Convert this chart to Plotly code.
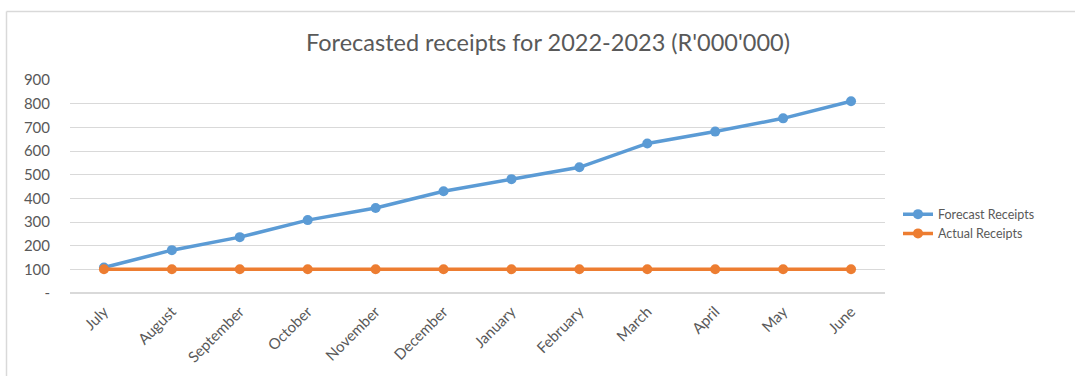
import plotly.graph_objects as go

months = ["July", "August", "September", "October", "November", "December",
          "January", "February", "March", "April", "May", "June"]
forecast_receipts = [108, 181, 236, 308, 359, 430, 481, 531, 632, 682, 738, 810]
actual_receipts = [100, 100, 100, 100, 100, 100, 100, 100, 100, 100, 100, 100]
y_tick_values = [0, 100, 200, 300, 400, 500, 600, 700, 800, 900]
y_tick_labels = ["-", "100", "200", "300", "400", "500", "600", "700", "800", "900"]

BLUE = "#5B9BD5"
ORANGE = "#ED7D31"
TEXT = "#595959"
GRID = "#D9D9D9"
FONT = "Lato, Open Sans, sans-serif"

W, H = 1075, 376
L, R, T, B = 70, 190, 80, 83
plot_w = W - L - R
plot_h = H - T - B

fig = go.Figure()
fig.add_trace(go.Scatter(
    x=months, y=forecast_receipts, name="Forecast Receipts",
    mode="lines+markers",
    line=dict(color=BLUE, width=3.5),
    marker=dict(color=BLUE, size=10),
))
fig.add_trace(go.Scatter(
    x=months, y=actual_receipts, name="Actual Receipts",
    mode="lines+markers",
    line=dict(color=ORANGE, width=3.5),
    marker=dict(color=ORANGE, size=10),
))

# Outer chart frame (top and left edges visible)
fx = (6.5 - L) / plot_w
fy = (H - B - 11.5) / plot_h
fig.add_shape(type="line", xref="paper", yref="paper",
              x0=fx, x1=(W - L + 5) / plot_w, y0=fy, y1=fy,
              line=dict(color="#D9D9D9", width=1.5))
fig.add_shape(type="line", xref="paper", yref="paper",
              x0=fx, x1=fx, y0=fy, y1=-(B + 5) / plot_h,
              line=dict(color="#D9D9D9", width=1.5))

fig.add_annotation(
    text="Forecasted receipts for 2022-2023 (R'000'000)",
    xref="paper", yref="paper",
    x=(548 - L) / plot_w, y=(H - B - 42) / plot_h,
    xanchor="center", yanchor="middle", showarrow=False,
    font=dict(family=FONT, size=23.5, color=TEXT),
)

fig.update_layout(
    width=W, height=H,
    margin=dict(l=L, r=R, t=T, b=B, autoexpand=False),
    paper_bgcolor="white", plot_bgcolor="white",
    font=dict(family=FONT, size=13, color=TEXT),
    showlegend=True,
    legend=dict(
        x=(898 - L) / plot_w, y=(H - B - 224) / plot_h,
        xanchor="left", yanchor="middle",
        font=dict(family=FONT, size=12.5, color=TEXT),
        bgcolor="rgba(0,0,0,0)",
        tracegroupgap=0, itemwidth=30,
    ),
    xaxis=dict(
        type="category", range=[-0.5, 11.5], automargin=False,
        tickangle=-45, showgrid=False, zeroline=False,
        showline=False, ticks="", ticklabelstandoff=6,
        tickfont=dict(family=FONT, size=15, color=TEXT),
    ),
    yaxis=dict(
        range=[0, 900], tickvals=y_tick_values, ticktext=y_tick_labels,
        automargin=False,
        showgrid=True, gridcolor=GRID, gridwidth=1,
        zeroline=True, zerolinecolor=GRID, zerolinewidth=2,
        showline=False, ticks="", ticklabelstandoff=19,
        tickfont=dict(family=FONT, size=15, color=TEXT),
    ),
)

fig.write_html("out.html")
